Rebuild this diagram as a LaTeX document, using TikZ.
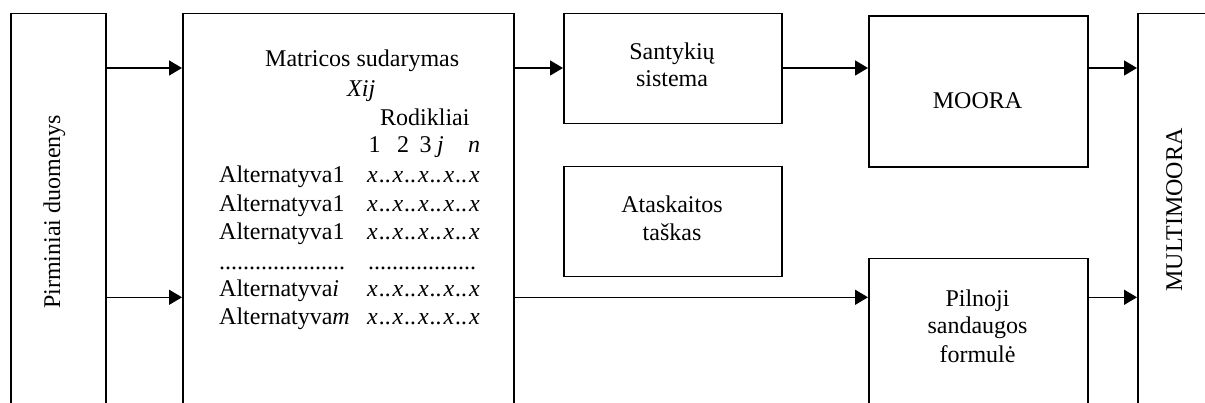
\documentclass[tikz,border=0pt]{standalone}
\usepackage{fontspec}
\setmainfont{Liberation Serif}
\usetikzlibrary{arrows.meta}
\newcommand{\xdots}{\kern1.4pt..\kern1.4pt}
\begin{document}
\begin{tikzpicture}[x=1pt,y=1pt,
  blk/.style={draw=black, line width=1.5pt, rectangle, inner sep=0pt, anchor=north west},
  lbl/.style={inner sep=0pt, font=\fontsize{24}{28}\selectfont},
  arr/.style={line width=1.5pt, -{Triangle[length=13pt,width=15pt]}}]
\clip (0,0) rectangle (1205,403);

% blocks (the tall ones run past the lower edge)
\node[blk, minimum width=95pt,  minimum height=420pt] (prim)  at (10,390)    {};
\node[blk, minimum width=331pt, minimum height=420pt] (mat)   at (182,390)   {};
\node[blk, minimum width=218pt, minimum height=110pt] (sant)  at (563,390)   {};
\node[blk, minimum width=218pt, minimum height=110pt] (atas)  at (563,237)   {};
\node[blk, minimum width=219pt, minimum height=151pt] (moora) at (868,387.5) {};
\node[blk, minimum width=219pt, minimum height=200pt] (pil)   at (868,145)   {};
\node[blk, minimum width=100pt, minimum height=420pt] (multi) at (1137,390)  {};

% block labels
\node[lbl, rotate=90, anchor=base] (tprim)  at (60,191)   {Pirminiai duomenys};
\node[lbl, rotate=90, anchor=base] (tmulti) at (1182,193) {MULTIMOORA};

\node[lbl, anchor=base] (ts1) at (672,343.7) {Santykių};
\node[lbl, anchor=base] (ts2) at (672,316)   {sistema};
\node[lbl, anchor=base] (ta1) at (672,190)   {Ataskaitos};
\node[lbl, anchor=base] (ta2) at (672,162.3) {taškas};
\node[lbl, anchor=base] (tm)  at (977.5,294) {MOORA};
\node[lbl, anchor=base] (tp1) at (977.5,96.3) {Pilnoji};
\node[lbl, anchor=base] (tp2) at (977.5,69)   {sandaugos};
\node[lbl, anchor=base] (tp3) at (977.5,40)   {formulė};

% decision matrix
\node[lbl, anchor=base west] (mh1) at (265,336)   {Matricos sudarymas};
\node[lbl, anchor=base west] (mh2) at (347,306.3) {\textit{Xij}};
\node[lbl, anchor=base west] (mh3) at (380,277)   {Rodikliai};
\node[lbl, anchor=base] (c1) at (374.5,250) {1};
\node[lbl, anchor=base] (c2) at (403,250)   {2};
\node[lbl, anchor=base] (c3) at (425.5,250) {3};
\node[lbl, anchor=base] (c4) at (440.5,250) {\textit{j}};
\node[lbl, anchor=base] (c5) at (474,250)   {\textit{n}};

\node[lbl, anchor=base west] (r1) at (219,220) {Alternatyva1};
\node[lbl, anchor=base west] (r2) at (219,191) {Alternatyva1};
\node[lbl, anchor=base west] (r3) at (219,163) {Alternatyva1};
\node[lbl, anchor=base west] (r4) at (219,133) {.....................};
\node[lbl, anchor=base west] (r5) at (219,106) {Alternatyva\textit{i}};
\node[lbl, anchor=base west] (r6) at (219,78)  {Alternatyva\textit{m}};

\node[lbl, anchor=base west] (v1) at (367,220) {\textit{x\xdots x\xdots x\xdots x\xdots x}};
\node[lbl, anchor=base west] (v2) at (367,191) {\textit{x\xdots x\xdots x\xdots x\xdots x}};
\node[lbl, anchor=base west] (v3) at (367,163) {\textit{x\xdots x\xdots x\xdots x\xdots x}};
\node[lbl, anchor=base west] (v4) at (368,133) {..................};
\node[lbl, anchor=base west] (v5) at (367,106) {\textit{x\xdots x\xdots x\xdots x\xdots x}};
\node[lbl, anchor=base west] (v6) at (367,78)  {\textit{x\xdots x\xdots x\xdots x\xdots x}};

% connectors
\coordinate (hi) at (0,335);
\coordinate (lo) at (0,105.7);
\draw[arr] (prim.east |- hi) -- (mat.west |- hi);
\draw[arr] (prim.east |- lo) -- (mat.west |- lo);
\draw[arr] (mat.east |- hi) -- (sant.west |- hi);
\draw[arr] (mat.east |- lo) -- (pil.west |- lo);
\draw[arr] (sant.east |- hi) -- (moora.west |- hi);
\draw[arr] (moora.east |- hi) -- (multi.west |- hi);
\draw[arr] (pil.east |- lo) -- (multi.west |- lo);
\end{tikzpicture}
\end{document}
